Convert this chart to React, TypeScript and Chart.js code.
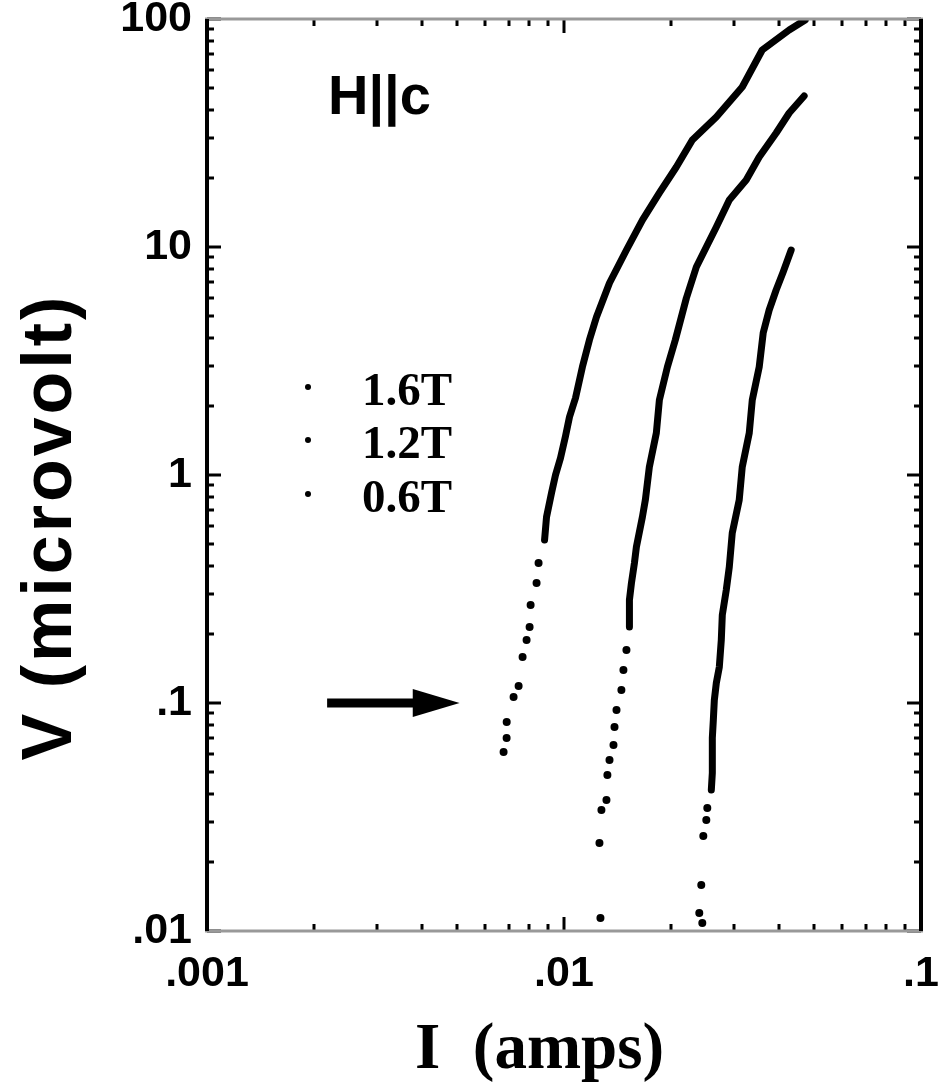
import { useEffect, useRef } from "react";
import { Chart, registerables } from "chart.js";

Chart.register(...registerables);

// Current (A) and voltage (µV) readings for each field, ordered by rising voltage
const current16T = [
  0.006773, 0.006906, 0.00691, 0.007224, 0.007462, 0.007656, 0.007856, 0.00801, 0.008062,
  0.008378, 0.008487, 0.008822, 0.008934, 0.009226, 0.009467, 0.009777, 0.0101, 0.01036,
  0.01077, 0.01126, 0.01178, 0.01233, 0.01341, 0.01496, 0.01658, 0.0185, 0.02064, 0.02288,
  0.02671, 0.03157, 0.03591, 0.04273, 0.04737,
];
const voltage16T = [
  0.061, 0.0702, 0.0825, 0.1063, 0.1188, 0.1591, 0.1889, 0.2154, 0.269, 0.336, 0.4111,
  0.5187, 0.6542, 0.8338, 1.0, 1.187, 1.483, 1.796, 2.176, 2.977, 3.909, 4.932, 6.953, 9.7,
  13.13, 17.26, 22.43, 29.47, 37.17, 50.33, 73.11, 89.49, 99.0,
];

const current12T = [
  0.01265, 0.01257, 0.01273, 0.01315, 0.01323, 0.01341, 0.01376, 0.01385, 0.01403, 0.01448,
  0.01467, 0.01496, 0.01525, 0.01525, 0.01545, 0.01575, 0.01595, 0.01658, 0.0169, 0.01734,
  0.01814, 0.0185, 0.01948, 0.0205, 0.02202, 0.02348, 0.02504, 0.02671, 0.02904, 0.03239,
  0.03522, 0.03929, 0.04273, 0.04706,
];
const voltage12T = [
  0.0114, 0.02432, 0.03393, 0.03755, 0.04832, 0.05623, 0.06542, 0.07848, 0.09318, 0.114,
  0.1396, 0.1708, 0.2154, 0.283, 0.336, 0.4111, 0.4833, 0.6542, 0.7772, 1.084, 1.528, 2.133,
  2.977, 3.909, 5.975, 8.172, 10.0, 12.24, 16.07, 19.68, 24.81, 31.62, 38.7, 45.95,
];

const current06T = [
  0.0244, 0.02393, 0.02424, 0.02456, 0.02504, 0.0252, 0.02586, 0.02603, 0.02603, 0.02603,
  0.0262, 0.02637, 0.02671, 0.02723, 0.02758, 0.02776, 0.02848, 0.02904, 0.0296, 0.03096,
  0.03157, 0.03303, 0.03368, 0.03522, 0.03614, 0.03756, 0.03929, 0.04111, 0.04329,
];
const voltage06T = [
  0.01084, 0.01199, 0.01591, 0.0261, 0.03068, 0.03464, 0.04155, 0.04932, 0.05913, 0.0702,
  0.0842, 0.1031, 0.1224, 0.1438, 0.1889, 0.2432, 0.3131, 0.3949, 0.5567, 0.7772, 1.084,
  1.528, 2.133, 2.977, 4.196, 5.293, 6.477, 7.771, 9.7,
];

const seriesLabels = ["1.6T", "1.2T", "0.6T"];
const seriesCurrents = [current16T, current12T, current06T];
const seriesVoltages = [voltage16T, voltage12T, voltage06T];
// below these voltages the sweeps are sparse and plotted as separate dots
const sparseBelow = [0.5, 0.2, 0.04];

const xTickValues = [0.001, 0.01, 0.1];
const xTickLabels = [".001", ".01", ".1"];
const yTickValues = [0.01, 0.1, 1, 10, 100];
const yTickLabels = [".01", ".1", "1", "10", "100"];

const xTitle = "I  (amps)";
const yTitle = "V (microvolt)";
const fieldLabel = "H||c";

// arrow marking the 0.1 µV criterion
const arrowLevel = 0.1;
const arrowStart = 0.00217;
const arrowHeadBase = 0.00377;
const arrowTip = 0.0051;

const frameAndMarks = {
  id: "frameAndMarks",
  afterDraw(chart: any) {
    const { ctx, chartArea: a, scales } = chart;
    const xs = scales.x;
    const ys = scales.y;
    ctx.save();

    const seg = (x1: number, y1: number, x2: number, y2: number) => {
      ctx.beginPath();
      ctx.moveTo(x1, y1);
      ctx.lineTo(x2, y2);
      ctx.stroke();
    };

    // inward major and minor ticks on all four sides
    ctx.strokeStyle = "#000";
    ctx.lineWidth = 3;
    for (let k = -3; k <= -1; k++) {
      for (let m = 1; m <= 9; m++) {
        const v = m * Math.pow(10, k);
        if (v > 0.1 * 1.0001) break;
        const px = Math.round(xs.getPixelForValue(v));
        const len = m === 1 ? 14 : 7;
        seg(px, a.bottom, px, a.bottom - len);
        seg(px, a.top, px, a.top + len);
      }
    }
    for (let k = -2; k <= 2; k++) {
      for (let m = 1; m <= 9; m++) {
        const v = m * Math.pow(10, k);
        if (v > 100 * 1.0001) break;
        const py = Math.round(ys.getPixelForValue(v));
        const len = m === 1 ? 14 : 7;
        seg(a.left, py, a.left + len, py);
        seg(a.right, py, a.right - len, py);
      }
    }

    // frame
    ctx.lineWidth = 3;
    ctx.strokeStyle = "#999";
    seg(a.left - 2, a.top, a.right + 2, a.top);
    seg(a.left - 2, a.bottom, a.right + 2, a.bottom);
    ctx.strokeStyle = "#000";
    ctx.lineWidth = 4;
    seg(a.left, a.top, a.left, a.bottom);
    seg(a.right, a.top, a.right, a.bottom);

    // axis titles
    ctx.fillStyle = "#000";
    ctx.textAlign = "left";
    ctx.textBaseline = "alphabetic";
    ctx.font = "bold 65px 'Liberation Serif', 'Times New Roman', serif";
    ctx.fillText(xTitle, 415, 1068);

    ctx.save();
    ctx.translate(71, 527);
    ctx.rotate(-Math.PI / 2);
    ctx.textAlign = "center";
    ctx.font = "bold 70px 'Liberation Sans', Arial, sans-serif";
    (ctx as any).letterSpacing = "3px";
    ctx.fillText(yTitle, 0, 0);
    ctx.restore();

    // field orientation
    ctx.font = "bold 56px 'Liberation Sans', Arial, sans-serif";
    ctx.fillText(fieldLabel, a.left + 121, a.top + 95);

    // legend
    ctx.font = "bold 47px 'Liberation Serif', 'Times New Roman', serif";
    ctx.textBaseline = "middle";
    const rows = [a.top + 374, a.top + 427, a.top + 481];
    seriesLabels.forEach((lbl, i) => {
      ctx.beginPath();
      ctx.arc(a.left + 101, rows[i] - 6, 3, 0, Math.PI * 2);
      ctx.fill();
      ctx.fillText(lbl, a.left + 155, rows[i]);
    });

    // criterion arrow
    const ay = ys.getPixelForValue(arrowLevel);
    const x0 = xs.getPixelForValue(arrowStart);
    const xb = xs.getPixelForValue(arrowHeadBase);
    const xt = xs.getPixelForValue(arrowTip);
    ctx.lineWidth = 9;
    seg(x0, ay, xb + 2, ay);
    ctx.beginPath();
    ctx.moveTo(xb, ay - 14);
    ctx.lineTo(xt, ay);
    ctx.lineTo(xb, ay + 14);
    ctx.closePath();
    ctx.fill();

    ctx.restore();
  },
};

export default function App() {
  const canvasRef = useRef<HTMLCanvasElement | null>(null);

  useEffect(() => {
    const canvas = canvasRef.current;
    if (!canvas) return;

    const datasets = seriesLabels.map((label, i) => {
      const cut = sparseBelow[i];
      return {
        label,
        data: seriesCurrents[i].map((c, j) => ({ x: c, y: seriesVoltages[i][j] })),
        showLine: true,
        borderColor: "#000",
        borderWidth: 7,
        borderCapStyle: "round" as const,
        borderJoinStyle: "round" as const,
        backgroundColor: "#000",
        pointBackgroundColor: "#000",
        pointBorderWidth: 0,
        pointRadius: (c: any) => (c.raw && c.raw.y < cut ? 4 : 0),
        pointHoverRadius: 0,
        segment: {
          borderColor: (c: any) => (c.p0.parsed.y < cut ? "rgba(0,0,0,0)" : "#000"),
        },
      };
    });

    const tickFont = { family: "'Liberation Sans', Arial, sans-serif", size: 43, weight: "bold" as const, lineHeight: 1 };

    const chart = new Chart(canvas, {
      type: "scatter",
      data: { datasets },
      options: {
        responsive: false,
        animation: false,
        devicePixelRatio: 1,
        layout: { padding: { top: 19, right: 21, left: 0, bottom: 0 } },
        plugins: { legend: { display: false }, tooltip: { enabled: false } },
        scales: {
          x: {
            type: "logarithmic",
            position: "bottom",
            min: 0.001,
            max: 0.1,
            grid: { display: false, drawTicks: false, tickLength: 0 },
            border: { display: false },
            afterBuildTicks: (s: any) => {
              s.ticks = xTickValues.map((value) => ({ value }));
            },
            ticks: {
              autoSkip: false,
              maxRotation: 0,
              padding: 22,
              color: "#000",
              font: tickFont,
              callback: (_v: any, i: number) => xTickLabels[i],
            },
            afterFit: (s: any) => {
              s.height = 157;
              s.paddingLeft = 0;
              s.paddingRight = 0;
            },
          },
          y: {
            type: "logarithmic",
            position: "left",
            min: 0.01,
            max: 100,
            grid: { display: false, drawTicks: false, tickLength: 0 },
            border: { display: false },
            afterBuildTicks: (s: any) => {
              s.ticks = yTickValues.map((value) => ({ value }));
            },
            ticks: {
              autoSkip: false,
              padding: 15,
              color: "#000",
              font: tickFont,
              callback: (_v: any, i: number) => yTickLabels[i],
            },
            afterFit: (s: any) => {
              s.width = 207;
              s.paddingTop = 0;
              s.paddingBottom = 0;
            },
          },
        },
      },
      plugins: [frameAndMarks],
    });

    return () => chart.destroy();
  }, []);

  return (
    <div style={{ position: "absolute", left: 0, top: 0, width: 942, height: 1088, background: "#fff" }}>
      <canvas ref={canvasRef} width={942} height={1088} style={{ display: "block" }} />
    </div>
  );
}
